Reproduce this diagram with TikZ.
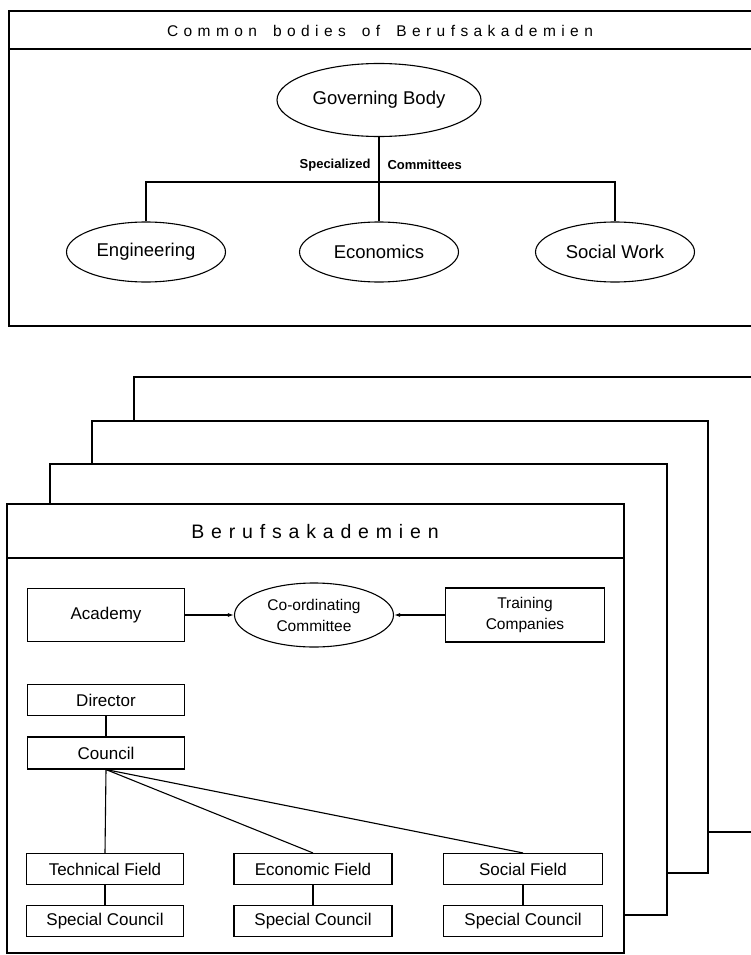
\documentclass[tikz,border=0pt]{standalone}
\usepackage{fontspec}
\setmainfont{Liberation Sans}
\newfontfamily\spacedfont[LetterSpace=35, WordSpace=1.65]{Liberation Sans}
\usetikzlibrary{arrows.meta,positioning,shapes.geometric}

\begin{document}
\begin{tikzpicture}[x=1pt, y=-1pt,
    frame/.style={draw, line width=1.2pt, fill=white},
    front/.style={draw, line width=2.2pt, fill=white},
    rule/.style={line width=1.2pt},
    oval/.style={ellipse, draw, line width=1.1pt, minimum width=159pt, minimum height=60pt, inner sep=0pt, font=\fontsize{18.5}{21}\selectfont},
    unit/.style={rectangle, draw, line width=1.1pt, minimum width=157pt, minimum height=31pt, inner sep=0pt, font=\fontsize{17}{19}\selectfont},
    heading/.style={font=\spacedfont\fontsize{15.5}{18}\selectfont},
    tag/.style={font=\bfseries\fontsize{13}{15}\selectfont},
    link/.style={line width=1.1pt},
    feed/.style={line width=1.1pt, -{Latex[length=6pt,width=4pt]}}
  ]
  \useasboundingbox (0,0) rectangle (750,955);

  % Upper panel: common bodies
  \draw[frame] (9,11) rectangle (752,326);
  \draw[rule] (9,49) -- (752,49);
  \node[heading] (common) at (380,31) {Common bodies of Berufsakademien};
  \node[oval, minimum width=204pt, minimum height=73pt] (gov) at (379,100) {Governing Body};
  \node[oval] (eng) at (146,252) {Engineering};
  \node[oval] (eco) at (379,252) {Economics};
  \node[oval] (soc) at (615,252) {Social Work};
  \coordinate (bus) at (379,182);
  \coordinate (split) at (379,165);
  \draw[link] (gov.south) -- (eco.north);
  \draw[link] (eng.north) -- (eng.north |- bus) -- (soc.north |- bus) -- (soc.north);
  \node[tag, left=5pt of split] (spec) {Specialized};
  \node[tag, right=5pt of split] (comm) {Committees};

  % Lower panel: stack of Berufsakademien
  \foreach \l/\t/\r/\b in {134/377/752/832, 92/421/708/873, 50/464/667/915}
    \draw[frame] (\l,\t) rectangle (\r,\b);
  \draw[front] (7,504) rectangle (624,953);
  \draw[rule] (7,558) -- (624,558);
  \node[heading, font=\spacedfont\fontsize{19.5}{22}\selectfont] (ba) at (315,532) {Berufsakademien};

  \node[unit, minimum height=53pt] (academy) at (106,615) {Academy};
  \node[oval, minimum height=64pt, align=center, font=\fontsize{15.5}{21}\selectfont] (coord) at (314,615) {Co-ordinating\\Committee};
  \node[unit, minimum width=159pt, minimum height=54pt, align=center, font=\fontsize{15.5}{21}\selectfont] (training) at (525,615) {Training\\Companies};
  \draw[feed] (academy.east) -- (coord.west);
  \draw[feed] (training.west) -- (coord.east);

  \node[unit] (director) at (106,700) {Director};
  \node[unit, minimum height=32pt] (council) at (106,753) {Council};
  \node[unit] (tech) at (105,869) {Technical Field};
  \node[unit] (techsc) at (105,921) {Special Council};
  \node[unit, minimum width=158pt] (econ) at (313,869) {Economic Field};
  \node[unit, minimum width=158pt] (econsc) at (313,921) {Special Council};
  \node[unit, minimum width=159pt] (social) at (523,869) {Social Field};
  \node[unit, minimum width=159pt] (socialsc) at (523,921) {Special Council};

  \draw[link] (director) -- (council);
  \draw[link] (council.south) -- (tech.north);
  \draw[link] (council.south) -- (econ.north);
  \draw[link] (council.south) -- (social.north);
  \draw[link] (tech) -- (techsc);
  \draw[link] (econ) -- (econsc);
  \draw[link] (social) -- (socialsc);
\end{tikzpicture}
\end{document}
